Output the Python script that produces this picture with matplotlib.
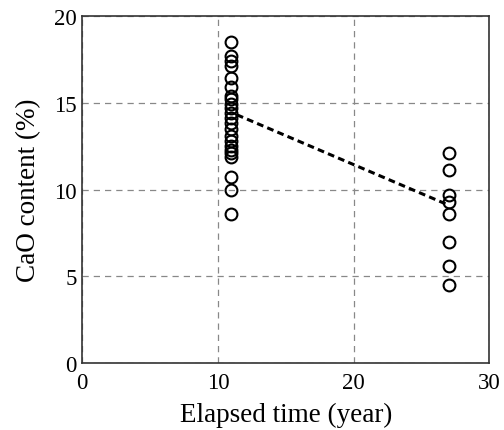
import matplotlib
matplotlib.use("Agg")
import matplotlib.pyplot as plt

plt.rcParams["font.family"] = ["Liberation Serif", "DejaVu Serif"]

# Measured CaO content at two ages
years_a = [11] * 23
cao_a = [18.5, 17.7, 17.4, 17.1, 16.4, 15.9, 15.4, 15.2, 14.9, 14.7, 14.4,
         14.1, 13.8, 13.5, 13.1, 12.8, 12.5, 12.3, 11.9, 10.7, 10.0, 8.6, 12.1]
years_b = [27] * 8
cao_b = [12.1, 11.1, 9.7, 9.3, 8.6, 7.0, 5.6, 4.5]

# Trend line between the two groups
trend_years = [11.4, 27]
trend_cao = [14.3, 9.1]

fig = plt.figure(figsize=(5.04, 4.31), dpi=100)
ax = fig.add_axes([0.163, 0.155, 0.808, 0.806])

ax.plot(years_a, cao_a, "o", mfc="none", mec="black", ms=8.5, mew=1.5, zorder=3)
ax.plot(years_b, cao_b, "o", mfc="none", mec="black", ms=8.5, mew=1.5, zorder=3)
ax.plot(trend_years, trend_cao, color="black", lw=2.2, ls=(0, (2.2, 1.4)), zorder=2)

ax.set_xlim(0, 30)
ax.set_ylim(0, 20)
ax.set_xticks([0, 10, 20, 30])
ax.set_yticks([0, 5, 10, 15, 20])
ax.tick_params(length=0, labelsize=16.5)
ax.tick_params(axis="y", pad=4)
ax.tick_params(axis="x", pad=6)
ax.grid(True, color="#888888", ls=(0, (5, 4)), lw=0.9)
for s in ax.spines.values():
    s.set_color("#333333")
    s.set_linewidth(1.2)

ax.set_xlabel("Elapsed time (year)", fontsize=19.5, labelpad=7)
ax.set_ylabel("CaO content (%)", fontsize=19.5, labelpad=9)

fig.savefig("out.png", dpi=100)
